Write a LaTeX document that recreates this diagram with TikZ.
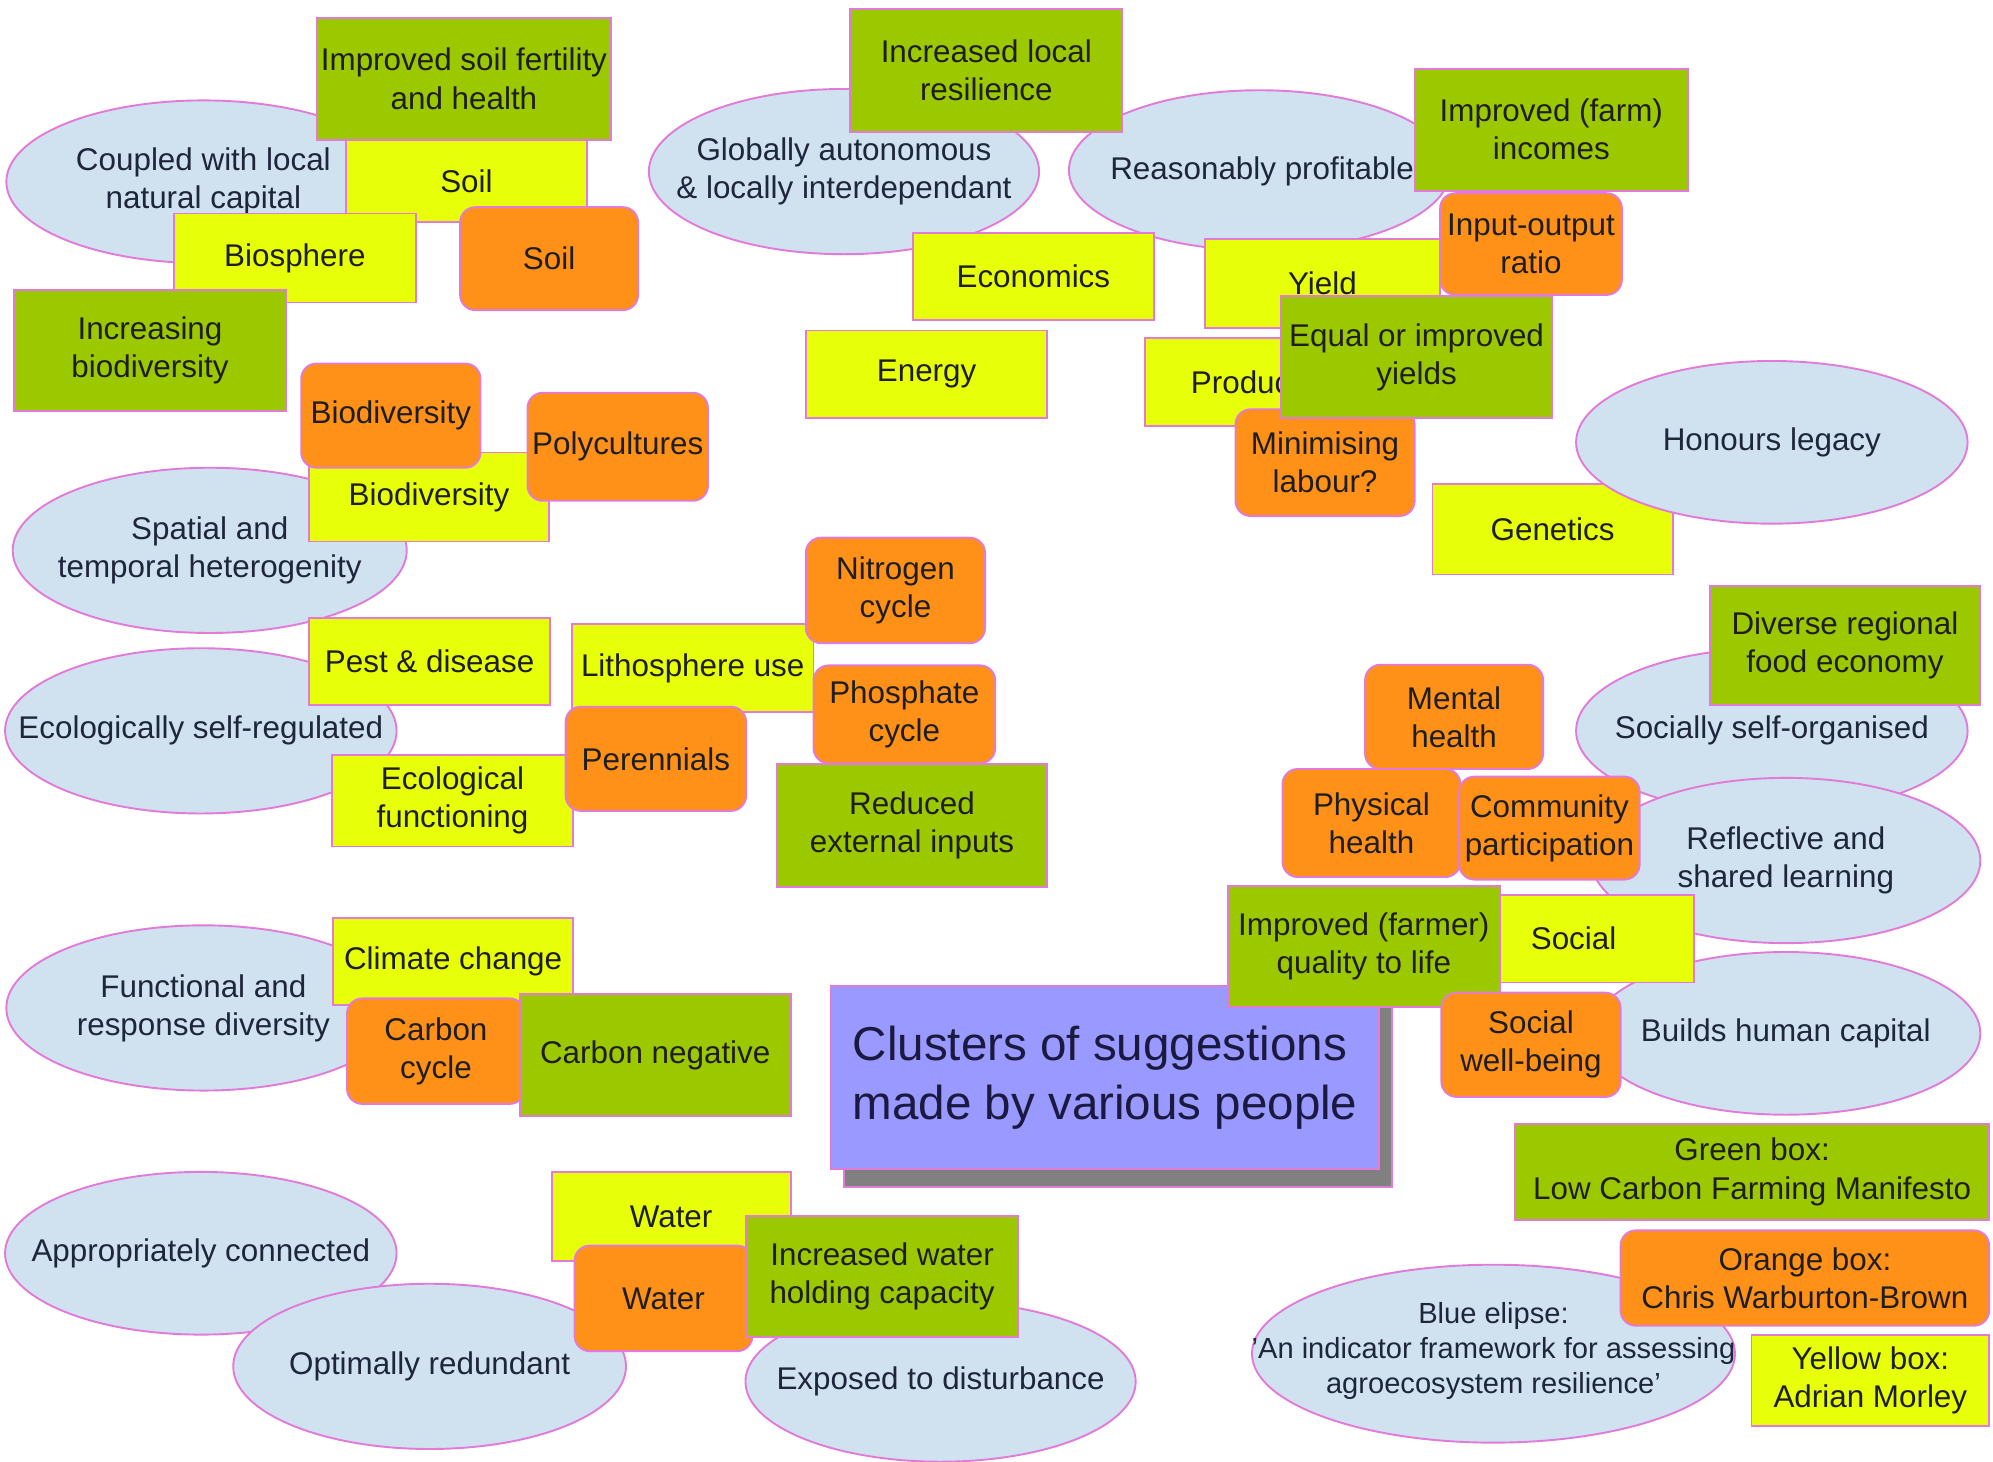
\documentclass[tikz,border=0pt]{standalone}
\usepackage{fontspec}
\setmainfont{Liberation Sans}
\usetikzlibrary{shapes.geometric}
\definecolor{bord}{RGB}{226,122,216}
\definecolor{ellfill}{RGB}{208,226,240}
\definecolor{yel}{RGB}{232,255,10}
\definecolor{grn}{RGB}{156,200,0}
\definecolor{org}{RGB}{255,144,24}
\definecolor{ttlfill}{RGB}{153,153,255}
\definecolor{shd}{RGB}{128,128,128}
\definecolor{txt}{RGB}{30,30,30}
\definecolor{etxt}{RGB}{30,38,60}
\definecolor{ttxt}{RGB}{26,26,64}
\newcommand{\nf}{\fontsize{24.7}{30}\selectfont}
\begin{document}
\begin{tikzpicture}[x=1pt,y=-1pt,
  shp/.style={draw=bord, line width=1.5pt, inner sep=2pt, align=center, font=\nf, text=txt},
  sz/.style 2 args={minimum width=#1pt, minimum height=#2pt},
  yb/.style={shp, rectangle, fill=yel},
  gb/.style={shp, rectangle, fill=grn},
  ob/.style={shp, rectangle, rounded corners=12pt, fill=org},
  el/.style={shp, ellipse, fill=ellfill, inner sep=0pt},
  etx/.style={inner sep=0pt, align=center, font=\nf, text=etxt},
  shadowbox/.style={draw=bord, line width=1.5pt, fill=shd, rectangle},
  titlebox/.style={draw=bord, line width=1.5pt, fill=ttlfill, rectangle, align=left, inner sep=4pt, text=ttxt, font=\fontsize{37.4}{46}\selectfont}
]
\path[use as bounding box, fill=white] (0,0) rectangle (1568,1150);

% ---- top-left cluster
\node[el, sz={310}{128}] (coupled) at (160,143) {};
\node[etx] (coupledT) at (coupled) {Coupled with local\\natural capital};
\node[gb, sz={232}{96}] (soilfert) at (365,62) {Improved soil fertility\\and health};
\node[yb, sz={190}{65}] (soilY) at (367,142.5) {Soil};
\node[yb, sz={190}{70}] (biosphere) at (232,203) {Biosphere};
\node[ob, sz={140}{81}] (soilO) at (432,203.5) {Soil};
\node[gb, sz={214}{95}] (incbio) at (118,275.5) {Increasing\\biodiversity};

% ---- middle-left cluster
\node[el, sz={310}{130}] (spatial) at (165,433) {};
\node[etx] (spatialT) at (spatial) {Spatial and\\temporal heterogenity};
\node[yb, sz={189}{70}] (bioY) at (337.5,391) {Biodiversity};
\node[ob, sz={141}{82}] (bioO) at (307.5,327) {Biodiversity};
\node[ob, sz={142}{85}] (poly) at (486,351.5) {Polycultures};
\node[el, sz={308}{130}] (ecoself) at (158,575) {};
\node[etx] (ecoselfT) at (ecoself) {Ecologically self-regulated};
\node[yb, sz={190}{69}] (pest) at (338,520.5) {Pest \& disease};
\node[yb, sz={190}{72}] (ecofun) at (356,630) {Ecological\\functioning};
\node[yb, sz={190}{69}] (litho) at (545,525.5) {Lithosphere use};
\node[ob, sz={142}{82}] (perenn) at (516,597) {Perennials};
\node[ob, sz={141}{83}] (nitro) at (704.5,464.5) {Nitrogen\\cycle};
\node[ob, sz={143}{77}] (phos) at (711.5,562) {Phosphate\\cycle};
\node[gb, sz={213}{97}] (redext) at (717.5,649.5) {Reduced\\external inputs};

% ---- bottom-left cluster
\node[el, sz={310}{130}] (funct) at (160,793) {};
\node[etx] (functT) at (funct) {Functional and\\response diversity};
\node[yb, sz={189}{69}] (climate) at (356.5,756.5) {Climate change};
\node[ob, sz={140}{83}] (carbcyc) at (343,827) {Carbon\\cycle};
\node[gb, sz={213}{96}] (carbneg) at (515.5,830) {Carbon negative};
\node[el, sz={308}{128}] (approp) at (158,986) {};
\node[etx] (appropT) at (approp) {Appropriately connected};
\node[el, sz={309}{130}] (optim) at (338,1075) {};
\node[etx] (optimT) at (optim) {Optimally redundant};
\node[yb, sz={188}{70}] (waterY) at (528,957) {Water};
\node[ob, sz={140}{83}] (waterO) at (522,1021.5) {Water};
\node[el, sz={307}{126}] (exposed) at (740,1087) {};
\node[etx] (exposedT) at (exposed) {Exposed to disturbance};
\node[gb, sz={214}{95}] (incwater) at (694,1004.5) {Increased water\\holding capacity};

% ---- top-middle cluster
\node[el, sz={307}{130}] (global) at (664,135) {};
\node[etx] (globalT) at (global) {Globally autonomous\\\& locally interdependant};
\node[el, sz={300}{126}] (profit) at (991,134) {};
\node[etx] (profitT) at (993,135) {Reasonably profitable};
\node[gb, sz={214}{97}] (incres) at (776,55.5) {Increased local\\resilience};
\node[yb, sz={190}{69}] (econ) at (813,217.5) {Economics};
\node[yb, sz={190}{69}] (energy) at (729,294.5) {Energy};
\node[yb, sz={185}{70}] (yield) at (1040.5,223) {Yield};
\node[gb, sz={215}{96}] (farminc) at (1220.5,102) {Improved (farm)\\incomes};
\node[ob, sz={143}{80}] (inout) at (1204.5,192) {Input-output\\ratio};
\node[yb, sz={190}{69}] (prod) at (996,300.5) {Production};
\node[ob, sz={141}{84}] (minlab) at (1042.5,364) {Minimising\\labour?};
\node[gb, sz={213}{96}] (eqyield) at (1114.5,281) {Equal or improved\\yields};
\node[yb, sz={189}{71}] (genetics) at (1221.5,416.5) {Genetics};
\node[el, sz={308}{128}] (honours) at (1394,348) {};
\node[etx] (honoursT) at (honours) {Honours legacy};

% ---- right cluster
\node[el, sz={308}{130}] (socself) at (1394,575) {};
\node[etx] (socselfT) at (socself) {Socially self-organised};
\node[gb, sz={213}{94}] (diverse) at (1451.5,508) {Diverse regional\\food economy};
\node[el, sz={306}{130}] (reflect) at (1405,677) {};
\node[etx] (reflectT) at (reflect) {Reflective and\\shared learning};
\node[el, sz={306}{128}] (builds) at (1405,813) {};
\node[etx] (buildsT) at (builds) {Builds human capital};
\node[ob, sz={140}{82}] (mental) at (1144,564) {Mental\\health};
\node[ob, sz={140}{85}] (physical) at (1079,647.5) {Physical\\health};
\node[ob, sz={142}{81}] (commun) at (1219,651.5) {Community\\participation};
\node[yb, sz={190}{69}] (social) at (1238,738.5) {Social};

% ---- title
\node[shadowbox, sz={431}{144}] (titleS) at (879.5,862) {};
\node[titlebox, sz={431}{144}] (title) at (869.5,848) {Clusters of suggestions\\made by various people};

\node[gb, sz={214}{95}] (quality) at (1073,744.5) {Improved (farmer)\\quality to life};
\node[ob, sz={141}{82}] (wellbeing) at (1204.5,822) {Social\\well-being};

% ---- legend
\node[el, sz={380}{140}] (blueleg) at (1175,1065) {};
\node[etx, font=\fontsize{22.9}{27.5}\selectfont] (bluelegT) at (1175,1063) {Blue elipse:\\'An indicator framework for assessing\\agroecosystem resilience'};
\node[gb, sz={373}{76}] (greenleg) at (1378.5,922) {Green box:\\Low Carbon Farming Manifesto};
\node[ob, sz={290}{75}] (orangeleg) at (1420,1005.5) {Orange box:\\Chris Warburton-Brown};
\node[yb, sz={187}{72}] (yellowleg) at (1471.5,1086) {Yellow box:\\Adrian Morley};
\end{tikzpicture}
\end{document}
